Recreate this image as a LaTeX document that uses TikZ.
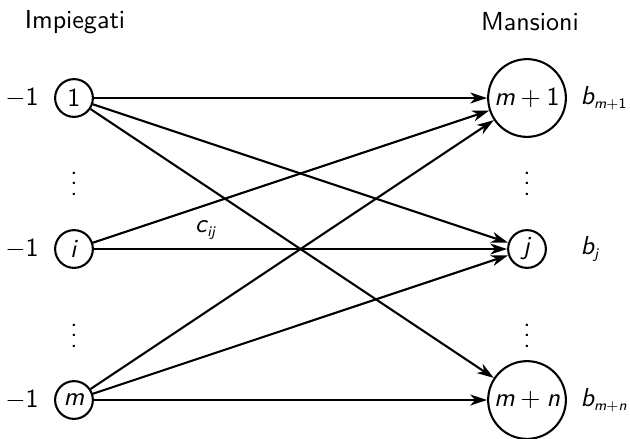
\documentclass[tikz,border=0pt]{standalone}
\usetikzlibrary{arrows.meta}
\newcommand{\mi}[1]{\textit{#1}}
\newcommand{\sub}[1]{\kern-0.3pt\raisebox{-0.3ex}{\fontsize{5.6}{6}\selectfont#1}}
\tikzstyle{every node}=[font=\sffamily]
\tikzstyle{small}=[circle, draw, thick, minimum size=0.51cm, inner sep=0pt]
\tikzstyle{big}=[circle, draw, thick, minimum size=1.05cm, inner sep=0pt]
\tikzstyle{weight}=[anchor=west, inner sep=0pt]
\tikzstyle{arc}=[-{Stealth[length=6.5pt, width=4.2pt, inset=2pt]}, thick]

\begin{document}
\begin{tikzpicture}[x=0.0135cm, y=-0.0135cm]
\useasboundingbox (0,0) rectangle (630,438);
% Headers
    \node (imp) at (75,22) {Impiegati};
    \node (man) at (530,22) {Mansioni};
% Employees
    \node[small] (e1) at (74,98) {1};
    \node[small] (ei) at (74,249) {\mi{i}};
    \node[small] (em) at (74,400) {\mi{m}};
    \node (l1) at (22,98) {$-$1};
    \node (li) at (22,249) {$-$1};
    \node (lm) at (22,400) {$-$1};
    \node (d1) at (74,176) {$\vdots$};
    \node (d2) at (74,328) {$\vdots$};
% Tasks
    \node[big] (t1) at (527,98) {\mi{m}${}+{}$1};
    \node[small] (tj) at (527,249) {\mi{j}};
    \node[big] (tn) at (527,400) {\mi{m}${}+{}$\mi{n}};
    \node[weight] (b1) at (580,98) {\mi{b}\sub{\mi{m}+1}};
    \node[weight] (bj) at (580,249) {\mi{b}\sub{\mi{j}}};
    \node[weight] (bn) at (580,400) {\mi{b}\sub{\mi{m}+\mi{n}}};
    \node (d3) at (527,176) {$\vdots$};
    \node (d4) at (527,328) {$\vdots$};
% Arcs
    \draw[arc] (e1) -- (t1);
    \draw[arc] (e1) -- (tj);
    \draw[arc] (e1) -- (tn);
    \draw[arc] (ei) -- (t1);
    \draw[arc] (ei) -- node[above, pos=0.27] (cij) {\mi{c}\sub{\mi{ij}}} (tj);
    \draw[arc] (em) -- (t1);
    \draw[arc] (em) -- (tj);
    \draw[arc] (em) -- (tn);
\end{tikzpicture}
\end{document}
